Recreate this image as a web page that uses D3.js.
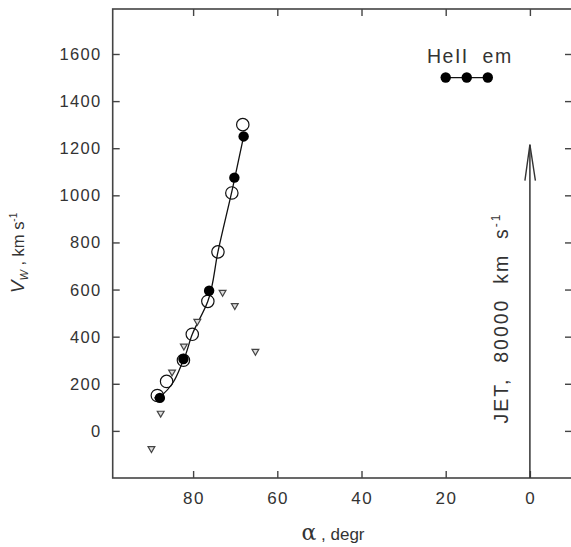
<!DOCTYPE html>
<html>
<head>
<meta charset="utf-8">
<script src="https://cdn.jsdelivr.net/npm/d3@7"></script>
<style>
  body { margin: 0; background: #fff; }
  text { font-family: "Liberation Sans", Arial, sans-serif; fill: #333; }
</style>
</head>
<body>
<svg id="chart" width="571" height="547"></svg>
<script>
// data
let openAlpha = [88.5, 86.3, 82.3, 80.2, 76.5, 74.1, 70.8, 68.2];
let openV     = [150, 210, 300, 410, 550, 760, 1010, 1300];
let fillAlpha = [87.9, 82.3, 76.2, 70.2, 68.0];
let fillV     = [140, 305, 595, 1075, 1250];
let triAlpha  = [89.9, 87.7, 85.0, 82.2, 79.0, 73.0, 70.1, 65.2];
let triV      = [-75, 75, 250, 360, 465, 588, 532, 338];
let lineAlpha = [89.2, 87.9, 82.3, 80.2, 76.5, 74.1, 70.5, 68.0];
let lineV     = [140, 145, 300, 410, 550, 760, 1040, 1250];
let legendAlpha = [20, 15, 10];
let legendV     = [1500, 1500, 1500];
let xTicks = [80, 60, 40, 20, 0];
let yTicks = [0, 200, 400, 600, 800, 1000, 1200, 1400, 1600];
let jetAlpha = [0, 0];
let jetV = [-200, 1215];

let svg = d3.select("#chart");
let pLeft = 112.7, pRight = 572, pTop = 9, pBottom = 478;

let x = d3.scaleLinear().domain([99.1, -10]).range([pLeft, pRight]);
let y = d3.scaleLinear().domain([-200, 1791]).range([pBottom, pTop]);

// frame
svg.append("rect").attr("x", pLeft).attr("y", pTop)
	.attr("width", pRight - pLeft).attr("height", pBottom - pTop)
	.style("fill", "none").style("stroke", "#444").style("stroke-width", "1.6px");

// inward ticks
svg.append("g").attr("transform", "translate(0," + pBottom + ")")
	.call(d3.axisTop(x).tickValues(xTicks).tickSize(7).tickFormat(""))
	.call(g => g.select(".domain").remove());
svg.append("g").attr("transform", "translate(0," + pTop + ")")
	.call(d3.axisBottom(x).tickValues(xTicks).tickSize(7).tickFormat(""))
	.call(g => g.select(".domain").remove());
svg.append("g").attr("transform", "translate(" + pLeft + ",0)")
	.call(d3.axisRight(y).tickValues(yTicks).tickSize(7).tickFormat(""))
	.call(g => g.select(".domain").remove());
svg.append("g").attr("transform", "translate(" + pRight + ",0)")
	.call(d3.axisLeft(y).tickValues(yTicks).tickSize(7).tickFormat(""))
	.call(g => g.select(".domain").remove());
svg.selectAll(".tick line").style("stroke", "#444").style("stroke-width", "1.4px");

// tick labels
svg.selectAll(".xlab").data(xTicks).enter().append("text")
	.attr("x", d => x(d) + 0.8).attr("y", 504)
	.attr("text-anchor", "middle").style("font-size", "17px").style("letter-spacing", "1.5px")
	.text(d => d);
svg.selectAll(".ylab").data(yTicks).enter().append("text")
	.attr("x", 101.5).attr("y", d => y(d) + 6)
	.attr("text-anchor", "end").style("font-size", "16.5px").style("letter-spacing", "1.3px")
	.text(d => d);

// axis titles
let xt = svg.append("text").attr("x", 333).attr("y", 540)
	.attr("text-anchor", "middle").style("font-size", "17px");
xt.append("tspan").style("font-family", "'DejaVu Serif', serif").style("font-size", "22px").text("α");
xt.append("tspan").text(" , degr");

let yt = svg.append("text").attr("transform", "translate(24,253) rotate(-90)")
	.attr("text-anchor", "middle").style("font-size", "16.5px");
yt.append("tspan").style("font-style", "italic").style("font-size", "19px").text("V");
yt.append("tspan").style("font-style", "italic").style("font-size", "11px").attr("dy", 4).text("W");
yt.append("tspan").attr("dy", -4).text(" , km s");
yt.append("tspan").style("font-size", "10px").attr("dy", -7).text("-1");

// fitted line
let line = d3.line().x(d => x(d[0])).y(d => y(d[1])).curve(d3.curveMonotoneY);
svg.append("path").datum(d3.zip(lineAlpha, lineV)).attr("d", line)
	.style("fill", "none").style("stroke", "#111").style("stroke-width", "1.3px");

// triangles
let tri = d3.symbol().type(d3.symbolTriangle).size(20);
svg.selectAll(".tri").data(d3.zip(triAlpha, triV)).enter().append("path")
	.attr("d", tri)
	.attr("transform", d => "translate(" + x(d[0]) + "," + y(d[1]) + ") rotate(180)")
	.style("fill", "#ddd").style("stroke", "#444").style("stroke-width", "1.2px");

// open circles
svg.selectAll(".open").data(d3.zip(openAlpha, openV)).enter().append("circle")
	.attr("cx", d => x(d[0])).attr("cy", d => y(d[1])).attr("r", 6.2)
	.style("fill", "none").style("stroke", "#111").style("stroke-width", "1.2px");

// filled circles
svg.selectAll(".fill").data(d3.zip(fillAlpha, fillV)).enter().append("circle")
	.attr("cx", d => x(d[0])).attr("cy", d => y(d[1])).attr("r", 5.2)
	.style("fill", "#000");

// legend
svg.append("text").attr("x", 427).attr("y", 63).style("font-size", "19.5px")
	.style("letter-spacing", "1.5px")
	.attr("xml:space", "preserve").text("HeII  em");
svg.append("path").datum(d3.zip(legendAlpha, legendV))
	.attr("d", d3.line().x(d => x(d[0])).y(d => y(d[1])))
	.style("stroke", "#111").style("stroke-width", "1.3px");
svg.selectAll(".leg").data(d3.zip(legendAlpha, legendV)).enter().append("circle")
	.attr("cx", d => x(d[0])).attr("cy", d => y(d[1])).attr("r", 5.2)
	.style("fill", "#000");

// jet arrow
svg.append("line").attr("x1", x(jetAlpha[0])).attr("x2", x(jetAlpha[1]))
	.attr("y1", y(jetV[0])).attr("y2", y(jetV[1]))
	.style("stroke", "#333").style("stroke-width", "1.5px");
let tip = [x(jetAlpha[1]), y(jetV[1])];
svg.append("path")
	.attr("d", "M" + (tip[0] - 5) + "," + (tip[1] + 36) + "L" + tip[0] + "," + tip[1] + "L" + (tip[0] + 5.5) + "," + (tip[1] + 36))
	.style("fill", "none").style("stroke", "#333").style("stroke-width", "1.4px");
svg.append("text").attr("transform", "translate(508,318) rotate(-90)")
	.attr("text-anchor", "middle").style("font-size", "19.5px").style("letter-spacing", "2px")
	.attr("xml:space", "preserve")
	.text("JET,  80000  km  s")
	.append("tspan").attr("dy", -8).style("font-size", "12px").text("-1");
</script>
</body>
</html>
